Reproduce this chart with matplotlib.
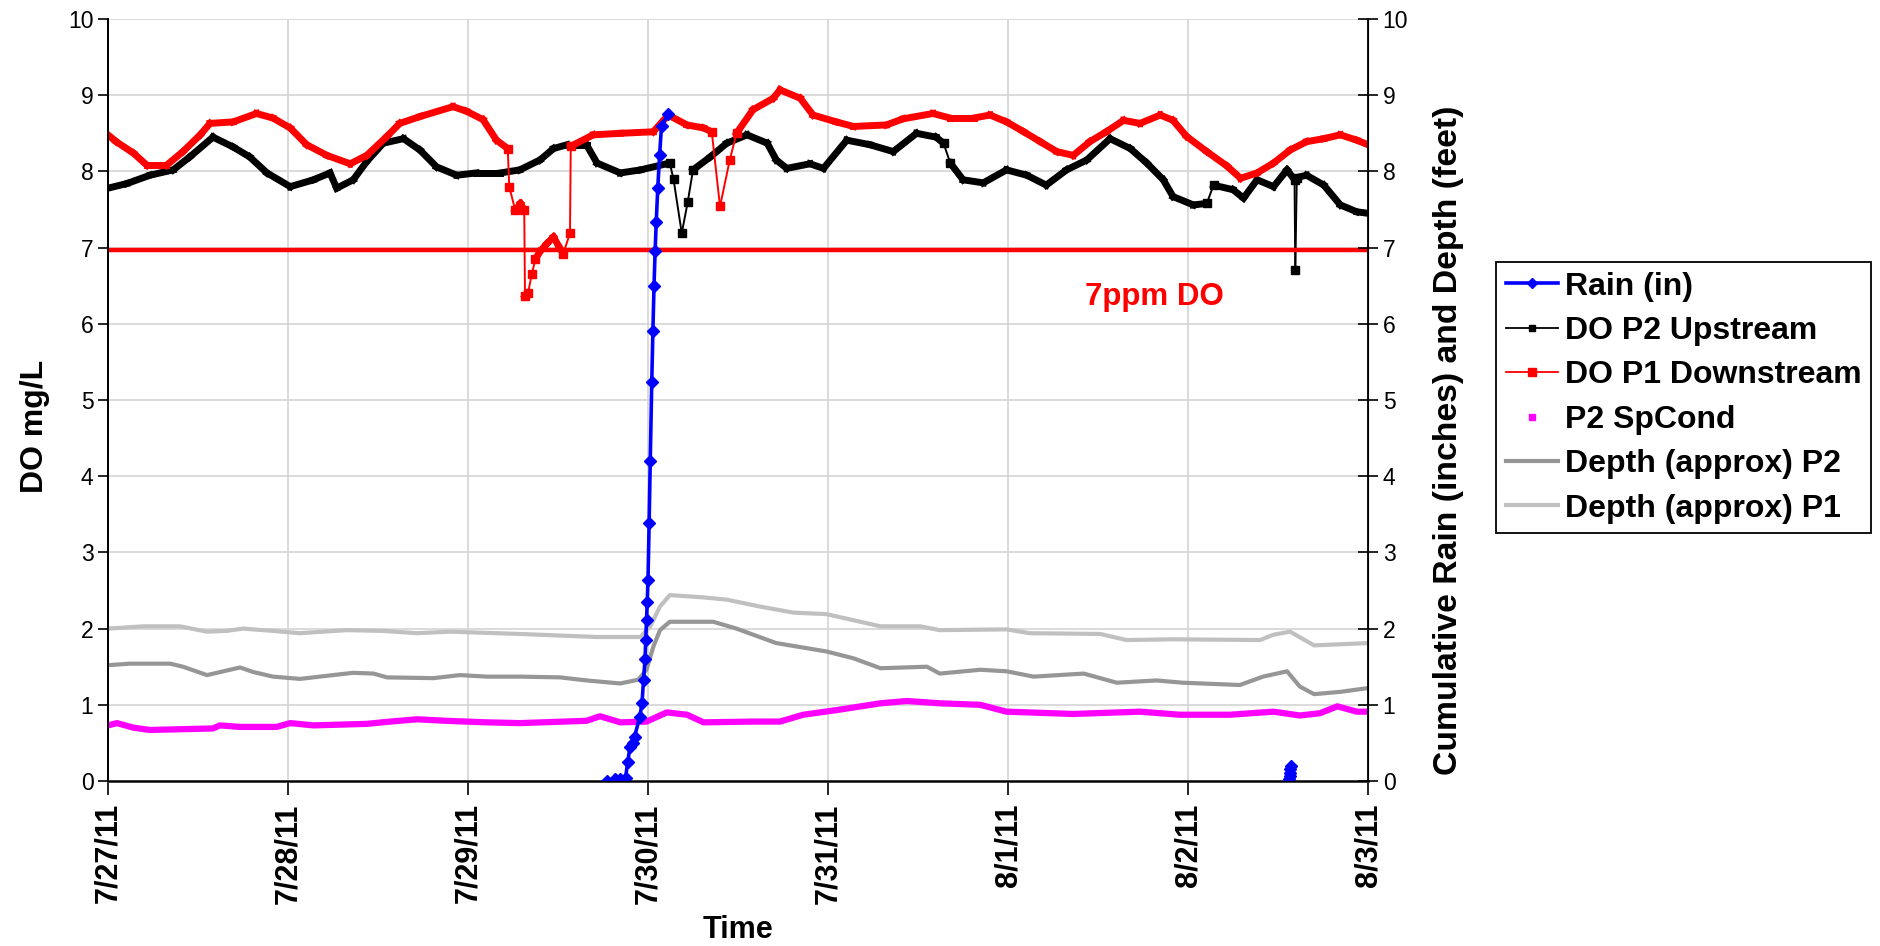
import numpy as np
import matplotlib
matplotlib.use("Agg")
import matplotlib.pyplot as plt
import matplotlib.dates as mdates
from matplotlib.lines import Line2D
from matplotlib.collections import LineCollection
import datetime

plt.rcParams['font.family'] = ['Liberation Sans', 'DejaVu Sans']

# time in hours after 7/27/11 00:00
do_p1_h = [0, 1.1, 3.4, 5.2, 7.8, 10.0, 12.3, 13.6, 16.7, 19.8, 22.0, 24.3, 26.5, 29.2,
           32.3, 34.5, 37.2, 38.9, 41.6, 46.0, 47.8, 50.0, 51.8, 53.3, 53.5, 54.3, 55.0,
           55.5, 55.6, 56.0, 56.5, 57.0, 57.6, 58.5, 59.4, 60.2, 60.7, 61.6, 61.7, 64.7,
           68.3, 72.7, 74.7, 77.2, 79.4, 80.5, 81.6, 82.9, 83.8, 86.0, 88.7, 89.6, 92.3,
           94.0, 97.1, 99.4, 103.8, 106.0, 110.0, 112.3, 115.4, 117.6, 119.8, 122.1, 124.3,
           126.5, 128.7, 130.9, 133.1, 135.4, 137.6, 140.3, 142.0, 143.8, 146.5, 149.2,
           151.0, 153.2, 155.4, 157.6, 159.8, 162.1, 164.3, 166.5, 168.0]
do_p1 = [8.48, 8.39, 8.24, 8.08, 8.08, 8.26, 8.48, 8.63, 8.65, 8.76, 8.70, 8.57, 8.35, 8.21,
         8.10, 8.21, 8.46, 8.63, 8.72, 8.85, 8.79, 8.68, 8.41, 8.30, 7.80, 7.49, 7.58,
         7.49, 6.36, 6.40, 6.65, 6.85, 6.95, 7.05, 7.14, 7.00, 6.92, 7.19, 8.33, 8.48,
         8.50, 8.52, 8.74, 8.61, 8.57, 8.52, 7.54, 8.15, 8.50, 8.81, 8.96, 9.07, 8.96,
         8.74, 8.65, 8.59, 8.61, 8.69, 8.76, 8.70, 8.70, 8.74, 8.65, 8.52, 8.39,
         8.26, 8.21, 8.39, 8.52, 8.67, 8.63, 8.74, 8.67, 8.46, 8.26, 8.07,
         7.91, 7.98, 8.11, 8.28, 8.39, 8.43, 8.48, 8.41, 8.35]

do_p2_h = [0, 2.5, 5.6, 8.7, 10.9, 14.0, 16.7, 18.9, 21.2, 24.3, 27.4, 29.6, 30.5, 32.7,
           34.5, 36.7, 39.4, 41.6, 43.8, 46.5, 49.1, 52.3, 54.9, 57.6, 59.4, 61.2, 63.8,
           65.2, 68.3, 71.0, 74.9, 75.4, 76.5, 77.3, 78.0, 80.3, 82.5, 85.2, 87.9, 89.1,
           90.5, 93.6, 95.4, 98.5, 101.6, 104.7, 107.8, 110.4, 111.4, 112.3, 114.0, 116.7,
           119.8, 122.5, 125.1, 127.8, 130.5, 133.6, 136.3, 138.5, 140.7, 142.0, 144.7,
           146.5, 147.4, 150.0, 151.4, 153.2, 155.4, 157.2, 158.2, 158.3, 158.5, 159.8,
           162.1, 164.3, 166.5, 168.0]
do_p2 = [7.78, 7.84, 7.95, 8.02, 8.19, 8.45, 8.32, 8.19, 7.98, 7.80, 7.89, 7.98, 7.78, 7.89,
         8.13, 8.37, 8.43, 8.28, 8.06, 7.95, 7.98, 7.98, 8.02, 8.15, 8.30, 8.35, 8.35,
         8.11, 7.98, 8.02, 8.11, 7.90, 7.19, 7.60, 8.02, 8.19, 8.37, 8.48, 8.37, 8.15,
         8.04, 8.10, 8.04, 8.41, 8.35, 8.26, 8.50, 8.45, 8.37, 8.11, 7.89, 7.85,
         8.02, 7.95, 7.82, 8.02, 8.15, 8.43, 8.30, 8.11, 7.89, 7.67, 7.56,
         7.58, 7.82, 7.76, 7.65, 7.89, 7.80, 8.02, 7.89, 6.71, 7.92, 7.95,
         7.82, 7.56, 7.47, 7.45]

rain_h = [66.5, 67.6, 68.3, 69.0, 69.3, 69.6, 70.0, 70.2, 70.9, 71.2, 71.4, 71.6, 71.7,
          71.8, 71.9, 72.0, 72.15, 72.3, 72.5, 72.65, 72.8, 72.95, 73.1, 73.3, 73.55,
          73.8, 74.7, np.nan, 157.5, 157.55, 157.6, 157.65, 157.7]
rain = [0.0, 0.02, 0.03, 0.04, 0.25, 0.45, 0.50, 0.58, 0.84, 1.02, 1.32, 1.60, 1.85,
        2.11, 2.35, 2.64, 3.39, 4.20, 5.23, 5.90, 6.49, 6.96, 7.34, 7.78, 8.22,
        8.60, 8.76, np.nan, 0.02, 0.06, 0.11, 0.16, 0.20]

depth_p1_h = [0, 4.7, 9.6, 13.2, 15.8, 18.0, 22.0, 25.6, 31.8, 36.7, 41.2, 45.6, 54.9,
              65.2, 71.0, 72.3, 73.6, 74.9, 79.4, 82.5, 86.9, 91.4, 95.8, 99.4, 103.0,
              108.3, 110.9, 119.8, 122.9, 132.3, 135.8, 142.0, 153.6, 155.4, 157.6,
              160.8, 168.0]
depth_p1 = [2.00, 2.03, 2.03, 1.96, 1.97, 2.00, 1.97, 1.94, 1.98, 1.97, 1.94, 1.96, 1.93,
            1.89, 1.89, 2.03, 2.29, 2.44, 2.41, 2.38, 2.29, 2.21, 2.19, 2.11, 2.03,
            2.03, 1.98, 1.99, 1.94, 1.93, 1.85, 1.86, 1.85, 1.92, 1.96,
            1.78, 1.81]

depth_p2_h = [0, 2.9, 8.3, 10.0, 13.2, 17.6, 19.4, 22.0, 25.6, 30.0, 32.7, 35.4, 37.2,
              43.4, 46.9, 50.5, 54.9, 60.3, 63.8, 68.3, 70.7, 71.8, 72.7, 73.6, 74.9,
              80.7, 83.8, 89.1, 95.8, 99.4, 103.0, 106.1, 109.2, 110.9, 116.3, 119.8,
              123.4, 130.1, 134.5, 139.8, 143.3, 150.9, 154.0, 157.2, 158.9, 160.8,
              164.3, 168.0]
depth_p2 = [1.52, 1.54, 1.54, 1.50, 1.39, 1.49, 1.43, 1.37, 1.34, 1.39, 1.42, 1.41, 1.36,
            1.35, 1.39, 1.37, 1.37, 1.36, 1.32, 1.28, 1.33, 1.46, 1.76, 1.98, 2.09,
            2.09, 2.00, 1.81, 1.70, 1.61, 1.48, 1.49, 1.50, 1.41, 1.46, 1.44,
            1.37, 1.41, 1.29, 1.32, 1.29, 1.26, 1.37, 1.44, 1.24, 1.14,
            1.17, 1.22]

spcond_h = [0, 1.2, 3.4, 5.6, 14.0, 14.9, 17.6, 22.5, 24.3, 27.4, 34.5, 37.6, 41.2, 45.1,
            50.5, 54.9, 63.8, 65.6, 68.3, 71.8, 74.5, 77.2, 79.4, 86.0, 89.6, 92.7, 97.1,
            103.0, 106.5, 110.9, 116.3, 119.8, 128.7, 137.6, 142.9, 149.6, 155.4, 158.9,
            161.6, 163.9, 166.5, 168.0]
spcond = [0.73, 0.76, 0.70, 0.67, 0.69, 0.73, 0.71, 0.71, 0.76, 0.73, 0.75, 0.78, 0.81, 0.79,
          0.77, 0.76, 0.79, 0.85, 0.77, 0.78, 0.90, 0.87, 0.77, 0.78, 0.78, 0.87, 0.93,
          1.02, 1.05, 1.02, 1.00, 0.91, 0.88, 0.91, 0.87, 0.87, 0.91, 0.86,
          0.89, 0.98, 0.91, 0.91]

do_limit = 6.97

base = mdates.date2num(datetime.datetime(2011, 7, 27))


def to_dates(hours):
    return base + np.array(hours, dtype=float) / 24.0


def do_series(ax, hours, vals, color, zorder):
    # dense logger data looks thick where it changes slowly, thin with
    # scattered markers where it changes fast
    h = np.array(hours, dtype=float)
    v = np.array(vals, dtype=float)
    x = to_dates(h)
    slope = np.abs(np.diff(v) / np.diff(h))
    steep = slope > 0.25
    segs = np.stack([np.column_stack([x[:-1], v[:-1]]),
                     np.column_stack([x[1:], v[1:]])], axis=1)
    widths = np.where(steep, 1.4, 5.0)
    lc = LineCollection(segs, colors=color, linewidths=widths, zorder=zorder,
                        capstyle='projecting', joinstyle='miter')
    ax.add_collection(lc)
    pts = np.zeros(len(h), dtype=bool)
    pts[:-1] |= steep
    pts[1:] |= steep
    ax.plot(x[pts], v[pts], ls='none', marker='s', ms=5.5, color=color, zorder=zorder)


fig = plt.figure(figsize=(18.81, 9.46), dpi=100)
ax = fig.add_axes([0.0574, 0.1744, 0.6699, 0.8055])
ax2 = ax.twinx()

do_series(ax, do_p2_h, do_p2, 'black', 3)
do_series(ax, do_p1_h, do_p1, '#ff0000', 4)
ax.axhline(do_limit, color='#ff0000', lw=3.2, zorder=5)
ax.text(base + 130.3 / 24, 6.25, '7ppm DO', color='#ff0000', fontsize=22.5,
        fontweight='bold', ha='left', va='baseline')

ax2.plot(to_dates(depth_p2_h), depth_p2, color='#969696', lw=3)
ax2.plot(to_dates(depth_p1_h), depth_p1, color='#c0c0c0', lw=3)
ax2.plot(to_dates(spcond_h), spcond, color='#ff00ff', lw=4.5)
ax2.plot(to_dates(rain_h), rain, color='#0000ff', lw=2.6, marker='D', ms=6)

for a in (ax, ax2):
    a.set_ylim(0, 10)
    a.set_yticks(range(0, 11))
    a.set_xlim(base, base + 7)
    a.spines['top'].set_visible(False)
    a.tick_params(axis='y', labelsize=16.5)

ax.xaxis.set_major_locator(mdates.DayLocator())
ax.xaxis.set_major_formatter(mdates.DateFormatter('%-m/%-d/%y'))
ax.tick_params(axis='x', direction='out', length=10, width=1.2, pad=6)
for lab in ax.get_xticklabels():
    lab.set_rotation(90)
    lab.set_fontsize(22)
    lab.set_fontweight('bold')

ax.tick_params(axis='y', direction='out', length=7, width=1.2)
ax2.tick_params(axis='y', direction='inout', length=14, width=1.2)
ax.spines['bottom'].set_color('#333333')
ax.spines['bottom'].set_linewidth(2)
for s in ('left', 'right'):
    ax2.spines[s].set_linewidth(1.3)
ax.spines['left'].set_linewidth(1.3)

ax.grid(True, color='#d4d4d4', lw=1.2)
ax.set_axisbelow(True)

ax.set_ylabel('DO mg/L', fontsize=23, fontweight='bold')
ax.yaxis.set_label_coords(-0.0457, 0.465)
ax2.set_ylabel('Cumulative Rain (inches) and Depth (feet)', fontsize=24.3,
               fontweight='bold')
ax2.yaxis.set_label_coords(1.0517, 0.447)
ax.set_xlabel('Time', fontsize=22, fontweight='bold', labelpad=8)

handles = [
    Line2D([], [], color='#0000ff', lw=2.6, marker='D', ms=5.5),
    Line2D([], [], color='black', lw=1.3, marker='s', ms=4.5),
    Line2D([], [], color='#ff0000', lw=1.3, marker='s', ms=6),
    Line2D([], [], color='#ff00ff', lw=0, marker='s', ms=4.5),
    Line2D([], [], color='#969696', lw=3),
    Line2D([], [], color='#c0c0c0', lw=3),
]
labels = ['Rain (in)', 'DO P2 Upstream', 'DO P1 Downstream', 'P2 SpCond',
          'Depth (approx) P2', 'Depth (approx) P1']
leg = fig.legend(handles, labels, loc='upper left', bbox_to_anchor=(0.7953, 0.723),
                 bbox_transform=fig.transFigure, fancybox=False, framealpha=1,
                 edgecolor='black', handlelength=1.65, handletextpad=0.2,
                 labelspacing=0.45, borderpad=0.3, borderaxespad=0,
                 prop={'size': 23, 'weight': 'bold'})
leg.get_frame().set_linewidth(1.3)

fig.savefig('out.png', dpi=100)
